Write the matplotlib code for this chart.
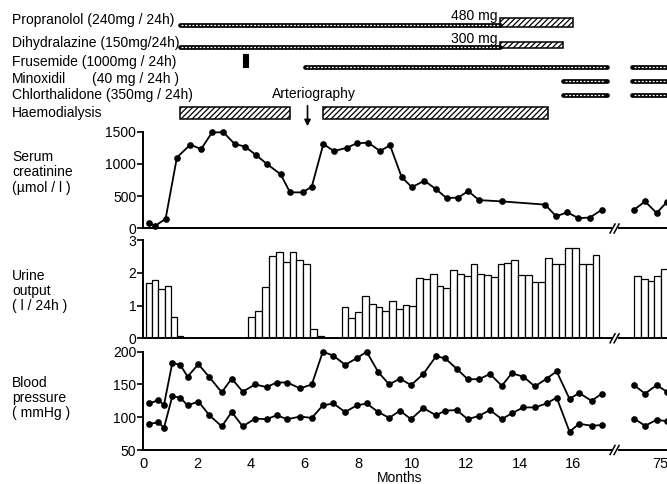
import numpy as np
import matplotlib
matplotlib.use("Agg")
import matplotlib.pyplot as plt
from matplotlib import transforms
from matplotlib.patches import Rectangle

plt.rcParams['font.family'] = ['Liberation Sans', 'DejaVu Sans']
plt.rcParams['hatch.linewidth'] = 0.9

# ---- data (months; late follow-up values are stored as real months ~74-75) ----
creat_months = [0.21, 0.44, 0.83, 1.25, 1.75, 2.15, 2.56, 2.98, 3.40, 3.78, 4.19, 4.60,
                5.11, 5.46, 5.93, 6.27, 6.70, 7.09, 7.57, 7.94, 8.37, 8.81, 9.18, 9.61,
                9.99, 10.46, 10.89, 11.29, 11.72, 12.09, 12.49, 13.34, 14.95, 15.36,
                15.78, 16.19, 16.62, 17.06]
creat_values = [90, 40, 150, 1100, 1300, 1230, 1490, 1490, 1310, 1270, 1140, 1000,
                840, 560, 560, 650, 1310, 1200, 1250, 1320, 1330, 1200, 1290, 800,
                640, 740, 610, 470, 480, 580, 440, 420, 370, 190,
                250, 160, 170, 290]
creat_late_months = [74.01, 74.42, 74.85, 75.23]
creat_late_values = [290, 420, 240, 410]

# urine output, weekly bars: (first month, last month, heights)
urine_runs = [
    (0.10, 1.49, [1.68, 1.78, 1.50, 1.60, 0.66, 0.07]),
    (3.91, 6.72, [0.66, 0.84, 1.57, 2.52, 2.64, 2.34, 2.64, 2.39, 2.26, 0.28, 0.08]),
    (7.38, 16.97, [0.96, 0.61, 0.81, 1.30, 1.04, 0.96, 0.83, 1.14, 0.89, 1.02,
                   0.98, 1.85, 1.81, 1.95, 1.59, 1.54, 2.08, 1.95, 1.91, 2.26,
                   1.96, 1.93, 1.88, 2.26, 2.29, 2.39, 1.93, 1.93, 1.71, 1.71,
                   2.46, 2.27, 2.27, 2.77, 2.77, 2.26, 2.26, 2.54]),
    (74.02, 75.27, [1.91, 1.80, 1.75, 1.91, 2.10]),
]

bp_months = [0.21, 0.56, 0.77, 1.08, 1.37, 1.65, 2.05, 2.46, 2.92, 3.29, 3.70, 4.16,
             4.59, 4.96, 5.36, 5.83, 6.27, 6.68, 7.07, 7.51, 7.94, 8.31, 8.74, 9.15,
             9.55, 9.96, 10.42, 10.89, 11.23, 11.66, 12.07, 12.49, 12.90, 13.34, 13.71,
             14.14, 14.57, 15.01, 15.38, 15.86, 16.22, 16.68, 17.06]
systolic = [121, 126, 119, 183, 180, 162, 181, 161, 138, 159, 139, 150,
            146, 153, 153, 144, 150, 200, 194, 180, 190, 200, 169, 150,
            159, 149, 166, 193, 190, 174, 158, 158, 166, 148, 167,
            162, 147, 159, 170, 128, 137, 125, 136]
diastolic = [90, 92, 84, 132, 130, 118, 124, 103, 86, 108, 86, 98,
             97, 103, 97, 101, 99, 118, 121, 108, 118, 121, 108, 99,
             110, 97, 114, 103, 110, 111, 97, 102, 111, 97, 106,
             115, 115, 121, 130, 78, 90, 87, 88]
bp_late_months = [74.01, 74.42, 74.85, 75.23]
systolic_late = [149, 136, 149, 139]
diastolic_late = [98, 87, 96, 94]

# treatments (start, end) in months
propranolol = [(1.37, 13.27)]
propranolol_high = [(13.27, 15.98)]
dihydralazine = [(1.37, 13.27)]
dihydralazine_high = [(13.27, 15.63)]
frusemide_bolus = [(3.71, 3.90)]
frusemide = [(6.02, 17.24), (73.95, 77.0)]
minoxidil = [(15.63, 17.24), (73.95, 77.0)]
chlorthalidone = [(15.63, 17.24), (73.95, 77.0)]
haemodialysis = [(1.37, 5.46), (6.69, 15.07)]
arteriography_month = 6.11

x_ticks = [0, 2, 4, 6, 8, 10, 12, 14, 16, 75]

# ---- layout helpers ----
W, H = 667, 484
LEFT_PX = 143.3
PX_PER_MONTH = 26.875
XMAX = (W - LEFT_PX) / PX_PER_MONTH
LATE_SHIFT = 55.75      # month 75 drawn at 19.25
BREAK_X = 17.53


def xpos(months):
    m = np.asarray(months, dtype=float)
    return np.where(m > 30, m - LATE_SHIFT, m)


fig = plt.figure(figsize=(W / 100, H / 100), dpi=100)


def px_axes(top_px, bottom_px):
    return fig.add_axes([LEFT_PX / W, (H - bottom_px) / H,
                         1 - LEFT_PX / W, (bottom_px - top_px) / H])


def style_panel(ax, ylim, yticks):
    ax.set_xlim(0, XMAX)
    ax.set_ylim(*ylim)
    ax.set_yticks(yticks)
    for s in ('top', 'right', 'bottom'):
        ax.spines[s].set_visible(False)
    ax.spines['left'].set_linewidth(1.4)
    ax.tick_params(axis='y', direction='out', length=4, width=1.2,
                   labelsize=10, pad=1)
    ax.tick_params(axis='x', bottom=False, labelbottom=False)
    ax.patch.set_alpha(0)
    # bottom axis with a break
    tr = transforms.blended_transform_factory(ax.transData, ax.transAxes)
    ax.plot([0, BREAK_X - 0.1], [0, 0], transform=tr, color='k', lw=1.4,
            clip_on=False, solid_capstyle='butt')
    ax.plot([BREAK_X + 0.12, XMAX], [0, 0], transform=tr, color='k', lw=1.4,
            clip_on=False, solid_capstyle='butt')
    hpx = ax.get_position().height * H
    dy = 4.5 / hpx
    dx = 2.5 / PX_PER_MONTH
    for c in (BREAK_X - 0.07, BREAK_X + 0.08):
        ax.plot([c - dx, c + dx], [-dy, dy], transform=tr, color='k',
                lw=1.1, clip_on=False)


def line_series(ax, months, values):
    ax.plot(xpos(months), values, color='k', lw=1.3, marker='o', ms=3.8,
            clip_on=False)


# ---- header: treatments ----
ax_h = px_axes(0, 130)
ax_h.set_xlim(0, XMAX)
ax_h.set_ylim(130, 0)
ax_h.axis('off')
lab_tr = transforms.blended_transform_factory(fig.transFigure, ax_h.transData)
lab_x = 12 / W


def thin_bars(spans, y):
    for a, b in spans:
        xa, xb = xpos([a, b])
        ax_h.plot([xa, xb], [y, y], color='k', lw=3.4, solid_capstyle='round')
        ax_h.plot([xa + 0.05, xb - 0.05], [y, y], color='white', lw=0.9,
                  dashes=(1.6, 1.3))


def hatched_bars(spans, y_top, y_bot):
    for a, b in spans:
        xa, xb = xpos([a, b])
        ax_h.add_patch(Rectangle((xa, y_top), xb - xa, y_bot - y_top,
                                 facecolor='white', edgecolor='k', lw=1.1,
                                 hatch='//////'))


rows = [("Propranolol (240mg / 24h)", 20),
        ("Dihydralazine (150mg/24h)", 43),
        ("Frusemide (1000mg / 24h)", 62),
        ("Minoxidil", 79),
        ("Chlorthalidone (350mg / 24h)", 94.5),
        ("Haemodialysis", 112.5)]
for txt, y in rows:
    ax_h.text(lab_x, y, txt, transform=lab_tr, fontsize=10, va='center', ha='left')
ax_h.text(92 / W, 79, "(40 mg / 24h )", transform=lab_tr, fontsize=10,
          va='center', ha='left')

thin_bars(propranolol, 25.3)
hatched_bars(propranolol_high, 18.3, 27.3)
thin_bars(dihydralazine, 46.8)
hatched_bars(dihydralazine_high, 41.7, 48.5)
for a, b in frusemide_bolus:
    ax_h.add_patch(Rectangle((a, 54), b - a, 13, facecolor='k', edgecolor='k',
                             lw=0.8))
thin_bars(frusemide, 66.5)
thin_bars(minoxidil, 80.5)
thin_bars(chlorthalidone, 94.5)
hatched_bars(haemodialysis, 107, 118.5)

ax_h.text(propranolol_high[0][0] - 0.1, 16, "480 mg", fontsize=10,
          ha='right', va='center')
ax_h.text(dihydralazine_high[0][0] - 0.1, 39, "300 mg", fontsize=10,
          ha='right', va='center')
ax_h.text(arteriography_month + 0.22, 94, "Arteriography", fontsize=10,
          ha='center', va='center')
ax_h.annotate('', xy=(arteriography_month, 129), xytext=(arteriography_month, 103),
              arrowprops=dict(arrowstyle='-|>', color='k', lw=1.2,
                              mutation_scale=9), annotation_clip=False)

# ---- serum creatinine ----
ax_c = px_axes(131.7, 228.5)
style_panel(ax_c, (0, 1500), [0, 500, 1000, 1500])
line_series(ax_c, creat_months, creat_values)
line_series(ax_c, creat_late_months, creat_late_values)

# ---- urine output ----
ax_u = px_axes(240, 338.3)
style_panel(ax_u, (0, 3), [0, 1, 2, 3])
for start, end, heights in urine_runs:
    edges = np.linspace(start, end, len(heights) + 1)
    left = xpos(edges[:-1])
    ax_u.bar(left, heights, width=(end - start) / len(heights), align='edge',
             facecolor='white', edgecolor='k', lw=0.9, clip_on=True)

# ---- blood pressure ----
ax_b = px_axes(351.7, 450)
style_panel(ax_b, (50, 200), [50, 100, 150, 200])
line_series(ax_b, bp_months, systolic)
line_series(ax_b, bp_months, diastolic)
line_series(ax_b, bp_late_months, systolic_late)
line_series(ax_b, bp_late_months, diastolic_late)
ax_b.set_xticks(xpos(x_ticks))
ax_b.set_xticklabels([str(t) for t in x_ticks])
ax_b.tick_params(axis='x', bottom=True, labelbottom=True, length=0,
                 labelsize=10.5, pad=5)

# ---- panel labels ----
fig.text(12 / W, 1 - 172.5 / H, "Serum\ncreatinine\n(\u00b5mol / l )",
         fontsize=10, va='center', ha='left', linespacing=1.1)
fig.text(12 / W, 1 - 291 / H, "Urine\noutput\n( l / 24h )",
         fontsize=10, va='center', ha='left', linespacing=1.1)
fig.text(12 / W, 1 - 398 / H, "Blood\npressure\n( mmHg )",
         fontsize=10, va='center', ha='left', linespacing=1.1)
fig.text(400 / W, 1 - 478 / H, "Months", fontsize=10, ha='center', va='center')

fig.savefig("out.png", dpi=100)
